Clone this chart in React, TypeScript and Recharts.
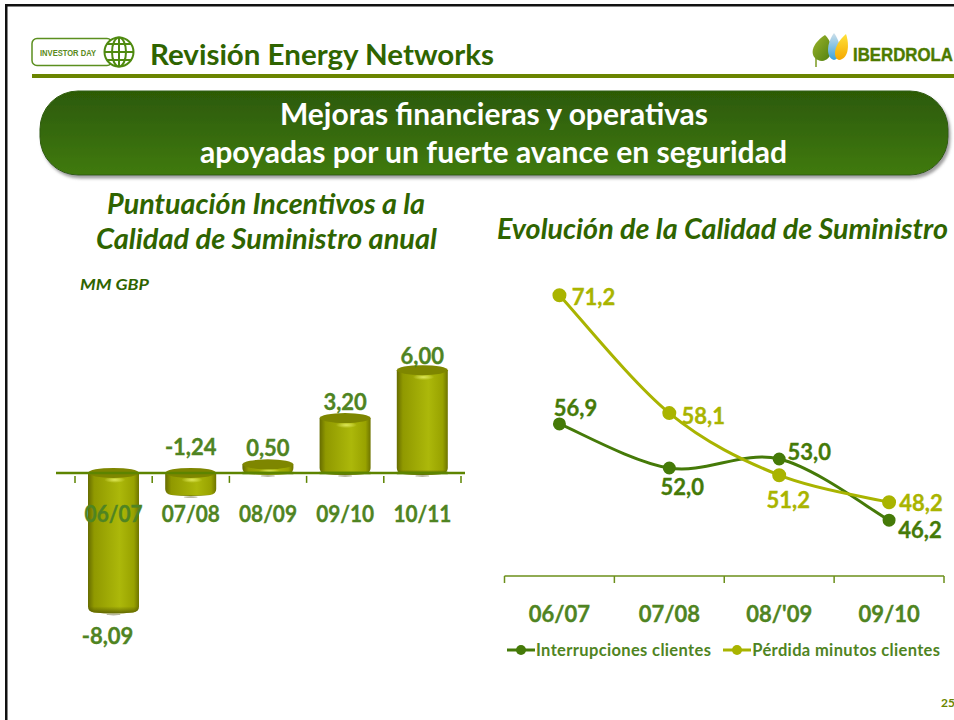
import {CSSProperties, FC} from "react";
import {Bar, BarChart, LabelList, Legend, Line, LineChart, ReferenceLine, XAxis, YAxis} from "recharts";

// left chart
const incentiveYears = ["06/07", "07/08", "08/09", "09/10", "10/11"];
const incentiveValues = [-8.09, -1.24, 0.5, 3.2, 6.0];
const incentiveLabelShift = [[-6, 24], [0, -48], [0, -17], [0, -17], [0, -15]];

// right chart
const qualityYears = ["06/07", "07/08", "08/'09", "09/10"];
const interruptions = [56.9, 52.0, 53.0, 46.2];
const lostMinutes = [71.2, 58.1, 51.2, 48.2];
const interruptionsLabelShift = [[16, -16], [13, 18], [30, -8], [31, 9]];
const lostMinutesLabelShift = [[34, 1], [34, 2], [9, 24], [32, 0]];

const incentiveData = incentiveYears.map((year, i) => ({year, value: incentiveValues[i]}));
const qualityData = qualityYears.map((year, i) => ({
    year,
    interruptions: interruptions[i],
    lostMinutes: lostMinutes[i],
}));

const FONT = "Lato, 'Noto Sans', sans-serif";
const DARK_TITLE = "#2f6400";
const LABEL_GREEN = "#4f8422";
const DARK_LINE = "#457a08";
const OLIVE = "#a9b400";

const BAR_MARGIN = {top: 10, right: 4, bottom: 25, left: 19};
const BAR_CHART_W = 409;
const BAR_CHART_H = 310;
const BAR_DOMAIN = [-9, 7];
const barPlotH = BAR_CHART_H - BAR_MARGIN.top - BAR_MARGIN.bottom - 1;
const barZeroY = BAR_MARGIN.top + barPlotH * BAR_DOMAIN[1] / (BAR_DOMAIN[1] - BAR_DOMAIN[0]);
const barStep = (BAR_CHART_W - BAR_MARGIN.left - BAR_MARGIN.right) / incentiveYears.length;

const LINE_PLOT_W = 439.5;
const LINE_AXIS_Y = 326;

const comma = (v: number, digits: number) => v.toFixed(digits).replace(".", ",");

// same smoothing as an Excel "smoothed line"
const excelCurve = (context: any) => {
    let pts: number[][] = [];
    return {
        areaStart() {},
        areaEnd() {},
        lineStart() {
            pts = [];
        },
        point(x: number, y: number) {
            pts.push([+x, +y]);
        },
        lineEnd() {
            pts.forEach((p, i) => {
                if (i === 0) {
                    context.moveTo(p[0], p[1]);
                    return;
                }
                const p0 = pts[i - 1];
                const before = pts[Math.max(i - 2, 0)];
                const after = pts[Math.min(i + 1, pts.length - 1)];
                context.bezierCurveTo(
                    p0[0] + (p[0] - before[0]) / 6, p0[1] + (p[1] - before[1]) / 6,
                    p[0] - (after[0] - p0[0]) / 6, p[1] - (after[1] - p0[1]) / 6,
                    p[0], p[1],
                );
            });
        },
    };
};

const Cylinder = (props: any) => {
    const {x, y, width, height, value} = props;
    const top = Math.min(y, y + height);
    const h = Math.abs(height);
    const rx = width / 2;
    const ry = 5;
    const bottom = top + h;
    const r = Math.min(6, (h + ry) / 2);
    const body = `M${x},${top} L${x},${bottom - r + 1} Q${x},${bottom} ${x + r},${bottom + 1} `
        + `Q${x + rx},${bottom + 3} ${x + width - r},${bottom + 1} Q${x + width},${bottom} ${x + width},${bottom - r + 1} `
        + `L${x + width},${top} Z`;
    return (
        <g>
            <path d={body} fill="url(#cylBody)"/>
            <path d={body} fill="url(#cylFoot)"/>
            <ellipse cx={x + rx * 1.05} cy={top + ry + 2} rx={rx * 0.42} ry={3} fill="url(#cylGlow)"/>
            <ellipse cx={x + rx} cy={top} rx={rx} ry={ry} fill="#7e8600"/>
            {value > 0 && (
                <line x1={x} x2={x + width} y1={bottom} y2={bottom} stroke="#5d8400" strokeWidth={2.5}/>
            )}
            <ellipse cx={x + rx} cy={bottom + 3} rx={7} ry={1} fill="#b9b9a0"/>
        </g>
    );
};

const boldText = (fill: string) => ({
    fontFamily: FONT,
    fontWeight: 700,
    fontSize: 22,
    fill,
    stroke: fill,
    strokeWidth: 0.35,
});

const IncentiveTick = (props: any) => {
    const {x, payload, index} = props;
    const tick = (tx: number, key: string) => (
        <line key={key} x1={tx} x2={tx} y1={barZeroY + 3} y2={barZeroY + 10} stroke="#5d8400" strokeWidth={1.5}/>
    );
    return (
        <g>
            {tick(x - barStep / 2, "l")}
            {index === incentiveYears.length - 1 && tick(x + barStep / 2, "r")}
            <text x={x} y={barZeroY + 49} textAnchor="middle" {...boldText(LABEL_GREEN)} textLength={58}
                  lengthAdjust="spacingAndGlyphs">{payload.value}</text>
        </g>
    );
};

const QualityTick = (props: any) => {
    const {x, payload, index} = props;
    const step = LINE_PLOT_W / qualityYears.length;
    const tick = (tx: number, key: string) => (
        <line key={key} x1={tx} x2={tx} y1={LINE_AXIS_Y} y2={LINE_AXIS_Y + 7} stroke="#6b8f1a" strokeWidth={1.5}/>
    );
    return (
        <g>
            {tick(x - step / 2, "l")}
            {index === qualityYears.length - 1 && tick(x + step / 2, "r")}
            <text x={x} y={LINE_AXIS_Y + 46} textAnchor="middle" {...boldText(LABEL_GREEN)}>{payload.value}</text>
        </g>
    );
};

const shiftedLabel = (shifts: number[][], fill: string, digits: number, fromBar: boolean) => (props: any) => {
    const {x, y, width, height, value, index} = props;
    const cx = fromBar ? x + width / 2 : x;
    let edge = y;
    if (fromBar) {
        edge = value < 0 ? Math.max(y, y + height) : Math.min(y, y + height);
    }
    return (
        <text x={cx + shifts[index][0]} y={edge + shifts[index][1]} textAnchor="middle" dominantBaseline="central"
              {...boldText(fill)}>{comma(value, digits)}</text>
    );
};

const LegendRow = ({payload}: any) => (
    <div style={{display: "flex", fontFamily: FONT, fontWeight: 700, fontSize: 16.5, letterSpacing: 0.35,
        color: LABEL_GREEN}}>
        {(payload || []).map((item: any, i: number) => (
            <div key={item.value} style={{display: "flex", alignItems: "center", marginRight: i === 0 ? 12 : 0}}>
                <svg width={28} height={14} style={{marginRight: 1}}>
                    <line x1={0} x2={28} y1={7} y2={7} stroke={item.color} strokeWidth={3}/>
                    <circle cx={14} cy={7} r={5} fill={item.color}/>
                </svg>
                <span style={{whiteSpace: "nowrap"}}>{item.value}</span>
            </div>
        ))}
    </div>
);

const Chrome: FC = () => (
    <svg width={954} height={720} style={{position: "absolute", left: 0, top: 0}} fontFamily={FONT}>
        <defs>
            <linearGradient id="pill" x1="0" y1="0" x2="0" y2="1">
                <stop offset="0" stopColor="#2c5a06"/>
                <stop offset="1" stopColor="#407a0e"/>
            </linearGradient>
            <filter id="pillShadow" x="-5%" y="-10%" width="110%" height="125%">
                <feDropShadow dx="2" dy="3" stdDeviation="1.5" floodColor="#777" floodOpacity="0.7"/>
            </filter>
            <linearGradient id="leafA" x1="0" y1="0" x2="1" y2="1">
                <stop offset="0" stopColor="#9db52a"/>
                <stop offset="1" stopColor="#4f7f10"/>
            </linearGradient>
            <linearGradient id="leafB" x1="0" y1="0" x2="0" y2="1">
                <stop offset="0" stopColor="#cfe0ea"/>
                <stop offset="1" stopColor="#3aa3dc"/>
            </linearGradient>
            <linearGradient id="leafC" x1="0" y1="0" x2="0" y2="1">
                <stop offset="0" stopColor="#ffe23a"/>
                <stop offset="1" stopColor="#f5a800"/>
            </linearGradient>
        </defs>

        {/* slide border */}
        <rect x={5} y={4} width={960} height={2.5} fill="#111"/>
        <rect x={5} y={4} width={2.5} height={720} fill="#111"/>

        {/* header */}
        <rect x={32} y={38.5} width={80} height={27} rx={5} fill="#fff" stroke="#5b8f1f" strokeWidth={1.5}/>
        <text x={40} y={56} fontFamily="'Liberation Sans'" fontWeight={700} fontSize={8.5} fill="#5a8a20"
              textLength={56} lengthAdjust="spacingAndGlyphs">INVESTOR DAY</text>
        <g fill="#fff" stroke="#4f8a10" strokeWidth={2}>
            <circle cx={119} cy={52} r={14.5}/>
            <ellipse cx={119} cy={52} rx={7} ry={14.5}/>
            <path d="M119,37.5 V66.5 M104.5,52 H133.5 M107,44 H131 M107,60 H131" fill="none"/>
        </g>
        <text x={150} y={65} fontWeight={700} fontSize={29} fill={DARK_TITLE} textLength={344}
              lengthAdjust="spacingAndGlyphs">Revisión Energy Networks</text>

        {/* logo */}
        <path d="M816,67 L816,48" stroke="#7a9a20" strokeWidth={1.5}/>
        <path d="M825,35 C836,46 832,60 822,61 C810,60 808,46 825,35 Z" fill="url(#leafA)"/>
        <path d="M834,33 C842,44 842,58 834,60 C826,58 826,44 834,33 Z" fill="url(#leafB)"/>
        <path d="M846,34 C850,46 848,59 839,60 C832,58 834,44 846,34 Z" fill="url(#leafC)"/>
        <text x={853} y={61} fontFamily="'Liberation Sans'" fontWeight={700} fontSize={18} fill="#4d7a00"
              stroke="#4d7a00" strokeWidth={0.4} textLength={100} lengthAdjust="spacingAndGlyphs">IBERDROLA</text>
        <rect x={32} y={74} width={922} height={4} fill="#6b8500"/>

        {/* banner */}
        <rect x={40} y={91} width={908} height={84} rx={38} fill="url(#pill)" stroke="#2f5c08" strokeWidth={1}
              filter="url(#pillShadow)"/>
        <text x={280} y={125} fontWeight={700} fontSize={30} fill="#fff" textLength={428}
              lengthAdjust="spacingAndGlyphs">Mejoras financieras y operativas</text>
        <text x={200} y={163} fontWeight={700} fontSize={30} fill="#fff" textLength={587}
              lengthAdjust="spacingAndGlyphs">apoyadas por un fuerte avance en seguridad</text>

        {/* section titles */}
        <text x={107} y={214} fontWeight={700} fontStyle="italic" fontSize={28} fill={DARK_TITLE} textLength={318}
              lengthAdjust="spacingAndGlyphs">Puntuación Incentivos a la</text>
        <text x={96} y={249} fontWeight={700} fontStyle="italic" fontSize={28} fill={DARK_TITLE} textLength={341}
              lengthAdjust="spacingAndGlyphs">Calidad de Suministro anual</text>
        <text x={497} y={239} fontWeight={700} fontStyle="italic" fontSize={28} fill={DARK_TITLE} textLength={451}
              lengthAdjust="spacingAndGlyphs">Evolución de la Calidad de Suministro</text>
        <text x={80} y={290} fontWeight={700} fontStyle="italic" fontSize={15.5} fill={DARK_TITLE} textLength={69}
              lengthAdjust="spacingAndGlyphs">MM GBP</text>

        <text x={941} y={707} fontWeight={700} fontSize={12} fill="#6b8500">25</text>
    </svg>
);

const page: CSSProperties = {
    position: "absolute",
    left: 0,
    top: 0,
    width: 954,
    height: 720,
    overflow: "hidden",
    background: "#fff",
};

const App: FC = () => (
    <div style={page}>
        <Chrome/>

        <div style={{position: "absolute", left: 56, top: 343}}>
            <BarChart width={BAR_CHART_W} height={BAR_CHART_H} data={incentiveData} margin={BAR_MARGIN}>
                <defs>
                    <linearGradient id="cylBody" x1="0" y1="0" x2="1" y2="0">
                        <stop offset="0" stopColor="#666c00"/>
                        <stop offset="0.12" stopColor="#909900"/>
                        <stop offset="0.62" stopColor="#acb80a"/>
                        <stop offset="0.9" stopColor="#98a200"/>
                        <stop offset="1" stopColor="#6e7400"/>
                    </linearGradient>
                    <linearGradient id="cylFoot" x1="0" y1="1" x2="0" y2="0">
                        <stop offset="0" stopColor="#4f5400" stopOpacity={0.8}/>
                        <stop offset="0.05" stopColor="#4f5400" stopOpacity={0}/>
                    </linearGradient>
                    <radialGradient id="cylGlow">
                        <stop offset="0" stopColor="#dfe85a"/>
                        <stop offset="1" stopColor="#dfe85a" stopOpacity={0}/>
                    </radialGradient>
                </defs>
                <YAxis hide domain={BAR_DOMAIN}/>
                <ReferenceLine y={0} shape={(p: any) => (
                    <line x1={p.x1 - BAR_MARGIN.left} x2={p.x2 + BAR_MARGIN.right} y1={p.y1} y2={p.y2}
                          stroke="#5d8400" strokeWidth={2.5}/>
                )}/>
                <Bar dataKey="value" barSize={51} isAnimationActive={false} shape={Cylinder}>
                    <LabelList dataKey="value" content={shiftedLabel(incentiveLabelShift, LABEL_GREEN, 2, true)}/>
                </Bar>
                <XAxis dataKey="year" height={1} axisLine={false} tickLine={false} interval={0} tick={IncentiveTick}/>
            </BarChart>
        </div>

        <div style={{position: "absolute", left: 490, top: 250}}>
            <LineChart width={464} height={420} data={qualityData}
                       margin={{top: 11, right: 10, bottom: 93, left: 14.5}}>
                <YAxis hide domain={[40, 75]}/>
                <XAxis dataKey="year" height={1} interval={0} scale="band"
                       axisLine={{stroke: "#6b8f1a", strokeWidth: 1.5}} tickLine={false} tick={QualityTick}/>
                <Line name="Interrupciones clientes" dataKey="interruptions" type={excelCurve as any}
                      stroke={DARK_LINE} strokeWidth={3} dot={{r: 5, fill: DARK_LINE, stroke: DARK_LINE}}
                      isAnimationActive={false}>
                    <LabelList dataKey="interruptions"
                               content={shiftedLabel(interruptionsLabelShift, DARK_LINE, 1, false)}/>
                </Line>
                <Line name="Pérdida minutos clientes" dataKey="lostMinutes" type={excelCurve as any}
                      stroke={OLIVE} strokeWidth={3} dot={{r: 5.5, fill: OLIVE, stroke: OLIVE}}
                      isAnimationActive={false}>
                    <LabelList dataKey="lostMinutes" content={shiftedLabel(lostMinutesLabelShift, OLIVE, 1, false)}/>
                </Line>
                <Legend layout="horizontal" verticalAlign="middle" align="center" content={LegendRow}
                        wrapperStyle={{left: 17, top: 390, width: "auto"}}/>
            </LineChart>
        </div>
    </div>
);

export default App;
